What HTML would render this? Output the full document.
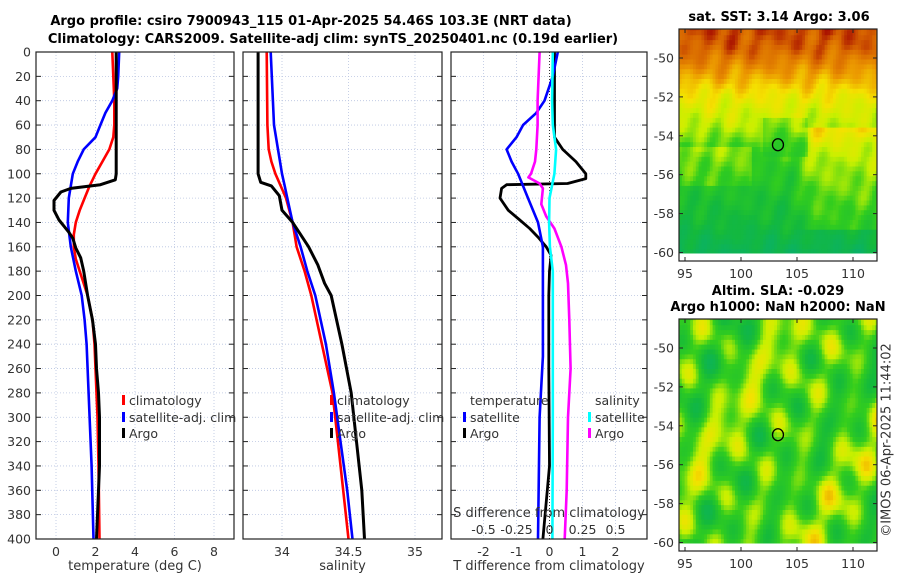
<!DOCTYPE html>
<html><head><meta charset="utf-8">
<style>
html,body{margin:0;padding:0;background:#fff;}
svg{display:block;font-family:"DejaVu Sans","Liberation Sans",sans-serif;}
.t{font-size:12.5px;fill:#333;}
.b{font-size:13px;font-weight:bold;fill:#000;}
</style></head>
<body>
<svg id="chart" width="900" height="580" viewBox="0 0 900 580" xmlns="http://www.w3.org/2000/svg">
<g id="maps"></g>
<g id="grid"></g>
<g id="lines"></g>
<g id="axes"></g>
<g id="labels"></g>
</svg>
<script>
// ---- data ----
const depthsT = [0,10,20,30,40,50,60,70,80,90,100,105,109,112,115,122,130,138,143,148,153,161,169,180,200,220,240,260,280,300,340,400];
const argoTemp = [3.05,3.05,3.05,3.05,3.05,3.05,3.05,3.05,3.05,3.05,3.05,3.0,2.25,0.75,0.25,-0.1,-0.1,0.15,0.4,0.65,0.85,1.0,1.25,1.4,1.6,1.85,2.0,2.05,2.15,2.2,2.2,2.05];
const climDepths = [0,20,40,60,70,80,90,100,110,120,130,140,150,160,170,180,200,220,240,260,280,300,340,400];
const climTemp = [2.85,2.9,2.95,2.95,2.9,2.7,2.35,2.0,1.7,1.45,1.2,1.0,0.9,0.9,1.0,1.2,1.6,1.85,1.95,2.0,2.05,2.1,2.15,2.2];
const satDepths = [0,20,30,40,50,60,70,80,90,100,120,140,160,180,200,220,240,260,280,300,340,400];
const satTemp = [3.2,3.15,3.1,2.85,2.5,2.25,2.0,1.4,1.1,0.85,0.65,0.6,0.75,1.0,1.3,1.45,1.55,1.6,1.65,1.7,1.8,1.9];

const depthsS = [0,100,107,110,118,130,140,150,160,175,190,200,240,280,320,360,400];
const argoSal = [33.82,33.82,33.84,33.92,33.98,34.0,34.08,34.14,34.2,34.27,34.32,34.37,34.45,34.52,34.56,34.6,34.62];
const climDepthsS = [0,60,80,90,100,110,120,140,160,180,200,240,280,320,360,400];
const climSal = [33.885,33.89,33.9,33.92,33.95,33.99,34.03,34.08,34.11,34.17,34.22,34.3,34.38,34.42,34.46,34.5];
const satSal = [33.915,33.94,33.97,33.985,34.0,34.02,34.04,34.08,34.14,34.19,34.25,34.33,34.39,34.44,34.49,34.53];

const diffDepthsA = [0,60,70,80,90,100,104,108,109,112,120,130,138,145,152,160,167,180,200,260,340,400];
const argoTDiff = [0.15,0.15,0.15,0.4,0.8,1.1,1.1,0.55,-1.3,-1.45,-1.5,-1.25,-0.9,-0.6,-0.35,-0.1,0.05,0.0,-0.02,-0.02,0.0,-0.2];
const diffDepthsB = [0,20,40,50,60,70,80,90,100,120,140,160,180,200,250,300,400];
const satTDiff = [0.25,0.1,-0.15,-0.4,-0.8,-1.0,-1.3,-1.15,-0.95,-0.65,-0.35,-0.2,-0.2,-0.2,-0.2,-0.3,-0.35];
const diffDepthsC = [0,40,60,80,100,120,140,160,180,250,300,400];
const satSDiff = [0.025,0.02,0.025,0.05,0.037,0.0,-0.003,0.003,0.025,0.025,0.025,0.022];
const diffDepthsD = [0,40,60,80,90,100,103,108,112,125,135,145,160,175,190,220,260,300,360,400];
const argoSDiff = [-0.075,-0.09,-0.09,-0.1,-0.11,-0.14,-0.16,-0.075,-0.05,-0.062,-0.025,0.037,0.09,0.125,0.14,0.15,0.16,0.14,0.13,0.115];

const depthTicks = [0,20,40,60,80,100,120,140,160,180,200,220,240,260,280,300,320,340,360,380,400];
const tempTicks = [0,2,4,6,8];
const salTicks = [34,34.5,35];
const tdTicks = [-2,-1,0,1,2];
const sdTicks = [-0.5,-0.25,0,0.25,0.5];
const sdTickLabels = ['-0.5','-0.25','0','0.25','0.5'];
const lonTicks = [95,100,105,110];
const latTicks = [-50,-52,-54,-56,-58,-60];

// ---- scales ----
const Y0=52, Y1=539;
const yD = d => Y0 + (d/400)*(Y1-Y0);
const P1={x0:36,x1:234}, P2={x0:243,x1:442}, P3={x0:451,x1:647};
const xT = v => 56 + 19.75*v;
const xS = v => 282 + 133*(v-34);
const xTD = v => 549.5 + 33*v;
const xSD = v => 549.5 + 132*v;
const NS='http://www.w3.org/2000/svg';
function mk(tag, attrs, parent){const e=document.createElementNS(NS,tag);for(const k in attrs)e.setAttribute(k,attrs[k]);parent.appendChild(e);return e;}
const G={grid:document.getElementById('grid'),lines:document.getElementById('lines'),axes:document.getElementById('axes'),labels:document.getElementById('labels'),maps:document.getElementById('maps')};

function txt(x,y,s,cls,anchor,parent){const e=mk('text',{x:x,y:y,class:cls,'text-anchor':anchor||'middle'},parent||G.labels);e.textContent=s;return e;}

// ---- panels ----
const panels=[{p:P1,xt:tempTicks,fx:xT,name:'temperature-panel'},{p:P2,xt:salTicks,fx:xS,name:'salinity-panel'},{p:P3,xt:tdTicks,fx:xTD,name:'difference-panel'}];
panels.forEach(pp=>{
  const p=pp.p;
  depthTicks.forEach(d=>{
    const l=mk('line',{x1:p.x0,x2:p.x1,y1:yD(d),y2:yD(d),stroke:'#b8c4e0','stroke-width':0.8,'stroke-dasharray':'1,2'},G.grid);
    
    
    mk('line',{x1:p.x0,x2:p.x0+5,y1:yD(d),y2:yD(d),stroke:'#222'},G.axes);
    mk('line',{x1:p.x1-5,x2:p.x1,y1:yD(d),y2:yD(d),stroke:'#222'},G.axes);
  });
  pp.xt.forEach(v=>{
    const x=pp.fx(v);
    const l=mk('line',{x1:x,x2:x,y1:Y0,y2:Y1,stroke:'#b8c4e0','stroke-width':0.8,'stroke-dasharray':'1,2'},G.grid);
    
    
    const t=txt(x,556,String(v),'t');
    
    
  });
  const r=mk('rect',{x:p.x0,y:Y0,width:p.x1-p.x0,height:Y1-Y0,fill:'none',stroke:'#222','stroke-width':1.2},G.axes);
  
  
});
depthTicks.forEach(d=>{const t=txt(31,yD(d)+4.5,String(d),'t','end');
  
  });
mk('line',{x1:xTD(0),x2:xTD(0),y1:Y0,y2:Y1,stroke:'#333','stroke-width':1,'stroke-dasharray':'1,2'},G.grid);
sdTicks.forEach((v,i)=>{const t=txt(xSD(v),534,sdTickLabels[i],'t');
  
  });

// ---- lines ----
function line(xs,ds,fx,color,name,w){
  const pts=xs.map((v,i)=>fx(v).toFixed(1)+','+yD(ds[i]).toFixed(1)).join(' ');
  const e=mk('polyline',{points:pts,fill:'none',stroke:color,'stroke-width':w||2.6,'stroke-linejoin':'round'},G.lines);
  
  
}
line(climTemp,climDepths,xT,'#ff0000','climatology-temp-line');
line(satTemp,satDepths,xT,'#0000ff','satellite-temp-line');
line(argoTemp,depthsT,xT,'#000','argo-temp-line',3);
line(climSal,climDepthsS,xS,'#ff0000','climatology-salinity-line');
line(satSal,climDepthsS,xS,'#0000ff','satellite-salinity-line');
line(argoSal,depthsS,xS,'#000','argo-salinity-line',3);
line(argoTDiff,diffDepthsA,xTD,'#000','argo-t-diff-line',2.8);
line(satTDiff,diffDepthsB,xTD,'#0000ff','satellite-t-diff-line');
line(argoSDiff,diffDepthsD,xSD,'#ff00ff','argo-s-diff-line');
line(satSDiff,diffDepthsC,xSD,'#00ffff','satellite-s-diff-line');

// ---- legends ----
function leg(x,y,color,label,name){
  if(color){const r=mk('rect',{x:x,y:y-10,width:3,height:10,fill:color},G.labels);
    
    }
  const t=txt(x+7,y,label,'t','start');
  
  
}
[[122,'climatology-legend'],[330,'climatology-legend-2']].forEach(([x,n])=>{
  leg(x,405,'#ff0000','climatology',n);
  leg(x,422,'#0000ff','satellite-adj. clim',n+'-sat');
  leg(x,438,'#000','Argo',n+'-argo');
});
txt(470,405,'temperature','t','start');
leg(463,422,'#0000ff','satellite','t-legend-satellite');
leg(463,438,'#000','Argo','t-legend-argo');
txt(595,405,'salinity','t','start');
leg(588,422,'#00ffff','satellite','s-legend-satellite');
leg(588,438,'#ff00ff','Argo','s-legend-argo');

// ---- maps ----
function cmap(v){
  const stops=[[0,[0,170,140]],[0.3,[20,185,60]],[0.45,[50,205,30]],[0.58,[200,240,0]],[0.68,[245,225,0]],[0.8,[235,150,0]],[0.9,[215,100,0]],[1,[160,0,0]]];
  v=Math.max(0,Math.min(1,v));
  for(let i=1;i<stops.length;i++){if(v<=stops[i][0]){const a=stops[i-1],b=stops[i];const f=(v-a[0])/(b[0]-a[0]);
    return 'rgb('+a[1].map((c,j)=>Math.round(c+(b[1][j]-c)*f)).join(',')+')';}}
  return 'rgb(160,0,0)';
}
function drawMap(top,bot,field,name){
  const X0=679,X1=877,lonA=94.46,lonB=112.1;
  const lx=l=>685+(l-95)*11.2;
  const ly=la=>top+29+(-50-la)*19.45;
  const g=mk('g',{},G.maps);
  
  
  const latTop=-50+(29)/19.45;
  for(let la=-60.05;la<latTop;la+=0.25){
    for(let lo=lonA;lo<lonB;lo+=0.25){
      const x=lx(lo),y=ly(la+0.25);
      const yt=Math.max(top,y), yb=Math.min(ly(la),bot-8);
      if(yb<=yt) continue;
      mk('rect',{x:x.toFixed(1),y:yt.toFixed(1),width:(Math.min(X1,lx(lo+0.25))-x+0.5).toFixed(1),height:(yb-yt+0.5).toFixed(1),fill:cmap(field(lo+0.125,la+0.125))},g);
    }
  }
  mk('rect',{x:X0,y:top,width:X1-X0,height:bot-top,fill:'none',stroke:'#222','stroke-width':1.2},g);
  lonTicks.forEach(l=>{mk('line',{x1:lx(l),x2:lx(l),y1:bot,y2:bot-4,stroke:'#222'},g);
    mk('line',{x1:lx(l),x2:lx(l),y1:top,y2:top+4,stroke:'#222'},g);
    txt(lx(l),bot+17,String(l),'t','middle',g);});
  latTicks.forEach(la=>{const y=ly(la);mk('line',{x1:X0,x2:X0+4,y1:y,y2:y,stroke:'#222'},g);
    mk('line',{x1:X1,x2:X1-4,y1:y,y2:y,stroke:'#222'},g);
    txt(674,y+4.5,String(la),'t','end',g);});
  const c=mk('ellipse',{cx:lx(103.3),cy:ly(-54.46),rx:5.5,ry:6,fill:'none',stroke:'#000','stroke-width':1.3},g);
  
  
}
const sstLat = [-48.5,-49.5,-50.3,-51,-51.8,-52.5,-53.5,-54.5,-55.5,-57,-58.5,-60.1];
const sstVal = [0.93,0.9,0.83,0.76,0.67,0.62,0.57,0.47,0.42,0.36,0.3,0.2];
function interp(la){for(let i=1;i<sstLat.length;i++){if(la>=sstLat[i]){const f=(la-sstLat[i-1])/(sstLat[i]-sstLat[i-1]);return sstVal[i-1]+f*(sstVal[i]-sstVal[i-1]);}}return sstVal[sstVal.length-1];}
const sst=(lo,la)=>{
  let v=interp(la);
  if(lo>104.5 && la<-53.5 && la>-58.8) v+=0.13*Math.min(1,(lo-104.5)/2);
  if(lo<101 && la<-54.5 && la>-56.5) v+=0.07;
  if(lo>102 && lo<106 && la>-55 && la<-53) v-=0.05;
  v+=0.04*Math.sin(lo*1.7+la*0.9)*Math.cos(lo*0.6-la*2.3)+0.03*Math.sin(lo*3.1-la*1.7);
  return v;
};
const sla=(lo,la)=>0.47+0.1*Math.sin(lo*1.1+la*0.35)*Math.cos(la*1.3+lo*0.2)+0.08*Math.sin(lo*2.1-la*0.9)+0.06*Math.cos(lo*0.7+la*2.4)+0.05*Math.sin(lo*0.45-la*0.6);
drawMap(29,261,sst,'sst-map');
drawMap(319,551,sla,'sla-map');
</script>
<div style="position:absolute;left:0;top:0;width:900px;height:580px;pointer-events:none;font-family:'DejaVu Sans','Liberation Sans',sans-serif;">
 <div style="position:absolute;left:0;width:622px;top:14px;text-align:center;font-weight:bold;font-size:13px;white-space:nowrap;">Argo profile: csiro 7900943_115 01-Apr-2025 54.46S 103.3E (NRT data)</div>
 <div style="position:absolute;left:0;width:666px;top:32px;text-align:center;font-weight:bold;font-size:13px;white-space:nowrap;">Climatology: CARS2009. Satellite-adj clim: synTS_20250401.nc (0.19d earlier)</div>
 <div style="position:absolute;left:36px;width:198px;top:559px;text-align:center;font-size:13px;color:#333;">temperature (deg C)</div>
 <div style="position:absolute;left:243px;width:199px;top:559px;text-align:center;font-size:13px;color:#333;">salinity</div>
 <div style="position:absolute;left:440px;width:218px;top:559px;text-align:center;font-size:13px;color:#333;white-space:nowrap;">T difference from climatology</div>
 <div style="position:absolute;left:440px;width:218px;top:506px;text-align:center;font-size:13px;color:#333;white-space:nowrap;">S difference from climatology</div>
 <div style="position:absolute;left:660px;width:238px;top:10px;text-align:center;font-weight:bold;font-size:13px;white-space:nowrap;">sat. SST: 3.14 Argo: 3.06</div>
 <div style="position:absolute;left:650px;width:256px;top:284px;text-align:center;font-weight:bold;font-size:13px;line-height:16px;white-space:nowrap;">Altim. SLA: -0.029<br>Argo h1000: NaN h2000: NaN</div>
 <div style="position:absolute;left:887px;top:440px;transform:translate(-50%,-50%) rotate(-90deg);white-space:nowrap;font-size:13px;color:#333;">©IMOS 06-Apr-2025 11:44:02</div>
</div>
</body></html>
